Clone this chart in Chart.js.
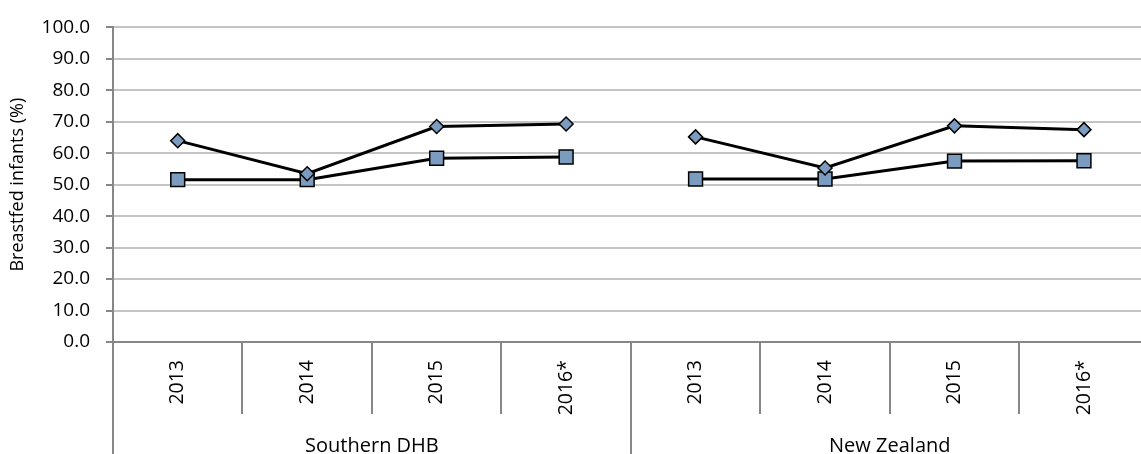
<!DOCTYPE html>
<html>
<head>
<meta charset="utf-8">
<script src="https://cdn.jsdelivr.net/npm/chart.js@4"></script>
<style>
  html, body { margin: 0; padding: 0; background: #fff; overflow: hidden; }
  #wrap { width: 1160px; height: 454px; }
</style>
</head>
<body>
<div id="wrap"><canvas id="lineChart" width="1160" height="454"></canvas></div>
<script>
const years = ['2013', '2014', '2015', '2016*', '2013', '2014', '2015', '2016*'];
const groups = ['Southern DHB', 'New Zealand'];
const upperSeries = [64.0, 53.5, 68.5, 69.3, 65.2, 55.3, 68.7, 67.5];
const lowerSeries = [51.6, 51.6, 58.4, 58.8, 51.8, 51.8, 57.5, 57.6];
const yTicks = [0, 10, 20, 30, 40, 50, 60, 70, 80, 90, 100];

const FONT = '"Open Sans", "Noto Sans", sans-serif';
const AXIS = '#878787';
const FILL = '#7b9bbf';

// no line between the last year of one group and the first of the next
const breakGroups = ctx => ctx.p0DataIndex === 3 ? 'rgba(0,0,0,0)' : '#000';

// draws the category dividers and the group labels under the x axis
const groupAxis = {
  id: 'groupAxis',
  afterDraw(chart) {
    const { ctx, chartArea, scales } = chart;
    const x = scales.x;
    const bottom = chartArea.bottom;
    const step = (chartArea.right - chartArea.left) / years.length;
    ctx.save();
    ctx.strokeStyle = AXIS;
    ctx.lineWidth = 2;
    for (let i = 0; i <= years.length; i++) {
      const px = Math.round(x.getPixelForTick(Math.min(i, years.length - 1)) + (i === years.length ? step / 2 : -step / 2));
      const long = i % 4 === 0;
      ctx.beginPath();
      ctx.moveTo(px, bottom);
      ctx.lineTo(px, long ? chart.height : bottom + 72);
      ctx.stroke();
    }
    ctx.fillStyle = '#000';
    ctx.font = '20px ' + FONT;
    ctx.textAlign = 'center';
    ctx.textBaseline = 'alphabetic';
    groups.forEach((g, k) => {
      const cx = (x.getPixelForTick(k * 4 + 1) + x.getPixelForTick(k * 4 + 2)) / 2;
      ctx.fillText(g, cx, bottom + 110);
    });
    ctx.restore();
  }
};

new Chart(document.getElementById('lineChart').getContext('2d'), {
  type: 'line',
  data: {
    labels: years,
    datasets: [{
      label: 'Upper',
      data: upperSeries,
      borderColor: '#000',
      borderWidth: 3,
      pointStyle: 'rectRot',
      pointRadius: 7,
      pointBackgroundColor: FILL,
      pointBorderColor: '#000',
      pointBorderWidth: 1.5,
      segment: { borderColor: breakGroups }
    }, {
      label: 'Lower',
      data: lowerSeries,
      borderColor: '#000',
      borderWidth: 3,
      pointStyle: 'rect',
      pointRadius: 9.8,
      pointBackgroundColor: FILL,
      pointBorderColor: '#000',
      pointBorderWidth: 1.5,
      segment: { borderColor: breakGroups }
    }]
  },
  plugins: [groupAxis],
  options: {
    responsive: false,
    animation: false,
    layout: { padding: { top: 25, right: 7, left: 0, bottom: 0 } },
    plugins: {
      legend: { display: false },
      tooltip: { enabled: false }
    },
    scales: {
      x: {
        offset: true,
        grid: { display: false },
        border: { display: true, color: AXIS, width: 2 },
        ticks: {
          color: '#000',
          font: { family: FONT, size: 19.5 },
          minRotation: 90,
          maxRotation: 90,
          padding: 10
        },
        afterFit(scale) { scale.height = 112; }
      },
      y: {
        min: 0,
        max: 100,
        afterBuildTicks(scale) { scale.ticks = yTicks.map(v => ({ value: v })); },
        grid: { color: '#c4c4c4', lineWidth: 2, tickLength: 7, tickColor: AXIS },
        border: { display: true, color: AXIS, width: 2 },
        ticks: {
          color: '#000',
          font: { family: FONT, size: 19 },
          padding: 16,
          callback: v => v.toFixed(1)
        },
        title: {
          display: true,
          text: 'Breastfed infants (%)',
          color: '#000',
          font: { family: FONT, size: 18 },
          padding: { top: 7, bottom: 0 }
        },
        afterFit(scale) { scale.width = 113; }
      }
    }
  }
});
</script>
</body>
</html>
